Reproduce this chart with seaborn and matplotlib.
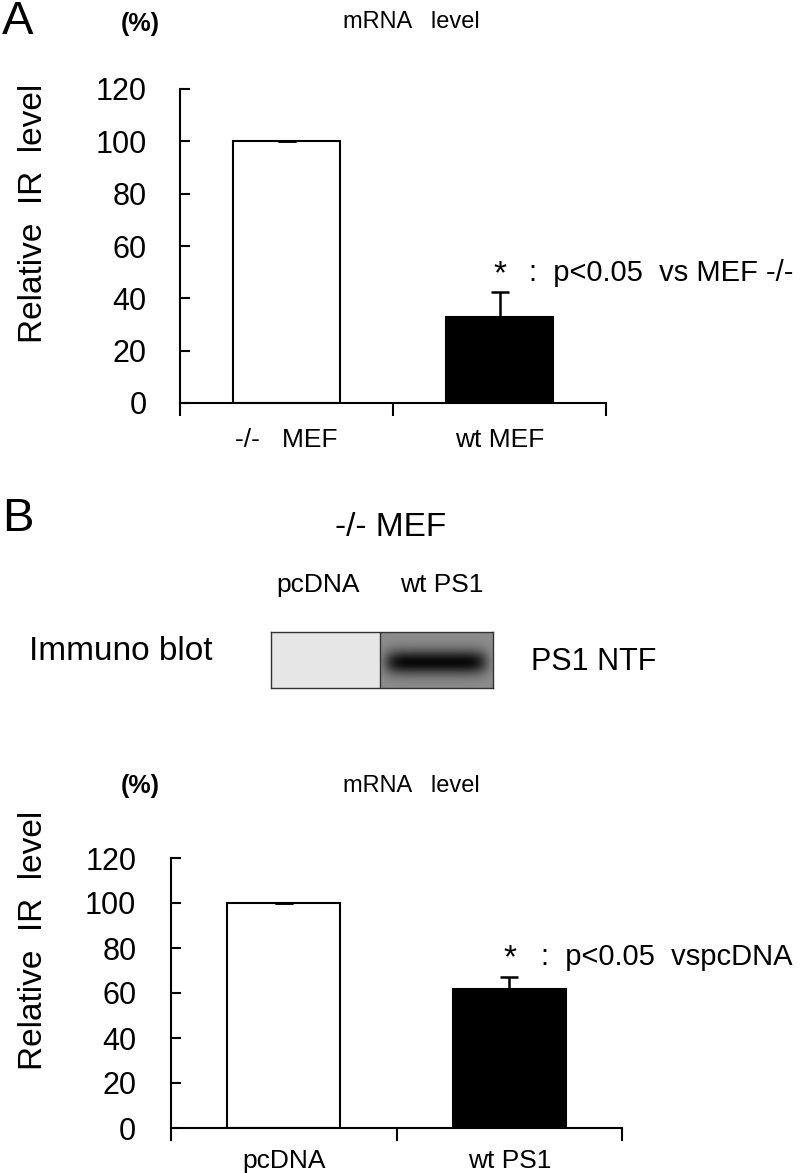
import numpy as np
import pandas as pd
import matplotlib
matplotlib.use("Agg")
import matplotlib.pyplot as plt
import seaborn as sns

# данные панели A
a_groups = ["-/-   MEF", "wt MEF"]
a_means = [100, 33]
a_err = [0, 9.5]
a_note = ":  p<0.05  vs MEF -/-"

# данные панели B
b_groups = ["pcDNA", "wt PS1"]
b_means = [100, 62]
b_err = [0, 5]
b_note = ":  p<0.05  vspcDNA"

y_ticks = [0, 20, 40, 60, 80, 100, 120]
bar_colors = ["white", "black"]

sns.set_style("ticks")
plt.rcParams["font.family"] = ["Liberation Sans", "DejaVu Sans"]
for k in ["text.color", "axes.labelcolor", "xtick.color", "ytick.color"]:
    plt.rcParams[k] = "black"

W, H = 800, 1173
fig = plt.figure(figsize=(W / 100, H / 100), dpi=100)


def px(x, y):
    # пиксели картинки -> координаты фигуры
    return x / W, 1 - y / H


def draw_panel(rect, groups, means, err, ypad, xpad):
    ax = fig.add_axes(rect)
    df = pd.DataFrame({"group": groups, "value": means})
    sns.barplot(data=df, x="group", y="value", hue="group", palette=bar_colors,
                edgecolor="black", linewidth=1.5, width=0.5, errorbar=None,
                legend=False, ax=ax)
    ax.errorbar(range(len(groups)), means, yerr=[[0] * len(err), err], fmt="none",
                ecolor="black", elinewidth=1.8, capsize=6.5, capthick=1.8)
    ax.set_xlim(-0.5, len(groups) - 0.5)
    ax.set_ylim(0, 120)
    ax.set_yticks(y_ticks)
    ax.set_xlabel("")
    ax.set_ylabel("")
    sns.despine(ax=ax)
    for s in ["left", "bottom"]:
        ax.spines[s].set_linewidth(1.5)
        ax.spines[s].set_color("black")
    ax.tick_params(axis="y", direction="in", length=7, width=1.5, pad=ypad,
                   labelsize=22)
    ax.tick_params(axis="x", which="major", length=0, pad=xpad, labelsize=19)
    ax.set_xticks(np.arange(len(groups) + 1) - 0.5, minor=True)
    ax.tick_params(axis="x", which="minor", direction="out", length=9, width=1.5)
    return ax


# ---------------- панель A ----------------
ax1 = draw_panel([180 / W, 1 - 403 / H, 426 / W, 314 / H],
                 a_groups, a_means, a_err, 24, 18)
fig.text(*px(2, 22), "A", fontsize=34, va="center", ha="left")
fig.text(*px(140, 24), "(%)", fontsize=18, fontweight="bold", va="center",
         ha="center")
fig.text(*px(411, 22), "mRNA   level", fontsize=17, va="center", ha="center")
fig.text(*px(34, 213), "Relative  IR  level", fontsize=24, rotation=90,
         va="center", ha="center")
fig.text(*px(500, 283), "*", fontsize=24, va="baseline", ha="center")
fig.text(*px(529, 281), a_note, fontsize=21, va="baseline", ha="left")

# ---------------- панель B ----------------
fig.text(*px(2, 519), "B", fontsize=34, va="center", ha="left")
fig.text(*px(391, 527), "-/- MEF", fontsize=24, va="center", ha="center")
fig.text(*px(318, 585), "pcDNA", fontsize=19, va="center", ha="center")
fig.text(*px(442, 585), "wt PS1", fontsize=19, va="center", ha="center")
fig.text(*px(29, 652), "Immuno blot", fontsize=24, va="center", ha="left")
fig.text(*px(531, 662), "PS1 NTF", fontsize=22, va="center", ha="left")

# иммуноблот: светлая дорожка pcDNA и тёмная полоса wt PS1
bx = fig.add_axes([271 / W, 1 - 688 / H, 222 / W, 56 / H])
xx = np.linspace(0, 1, 222)
yy = np.linspace(0, 1, 56)
X, Y = np.meshgrid(xx, yy)
blot = np.where(X < 0.49, 0.9, 0.55)
band = np.exp(-((Y - 0.54) / 0.22) ** 2) * np.exp(-((X - 0.745) / 0.23) ** 8)
blot = blot - 0.52 * band * (X >= 0.49)
bx.imshow(blot, cmap="gray", vmin=0, vmax=1, aspect="auto", interpolation="bilinear")
bx.axvline(0.49 * 221, color="#333333", lw=1)
bx.set_xticks([])
bx.set_yticks([])
for s in bx.spines.values():
    s.set_visible(True)
    s.set_color("#333333")
    s.set_linewidth(1)

ax2 = draw_panel([171 / W, 1 - 1128 / H, 451 / W, 270 / H],
                 b_groups, b_means, b_err, 25, 15)
fig.text(*px(140, 786), "(%)", fontsize=18, fontweight="bold", va="center",
         ha="center")
fig.text(*px(411, 786), "mRNA   level", fontsize=17, va="center", ha="center")
fig.text(*px(34, 940), "Relative  IR  level", fontsize=24, rotation=90,
         va="center", ha="center")
fig.text(*px(510, 967), "*", fontsize=24, va="baseline", ha="center")
fig.text(*px(541, 965), b_note, fontsize=21, va="baseline", ha="left")

fig.savefig("out.png", dpi=100)
